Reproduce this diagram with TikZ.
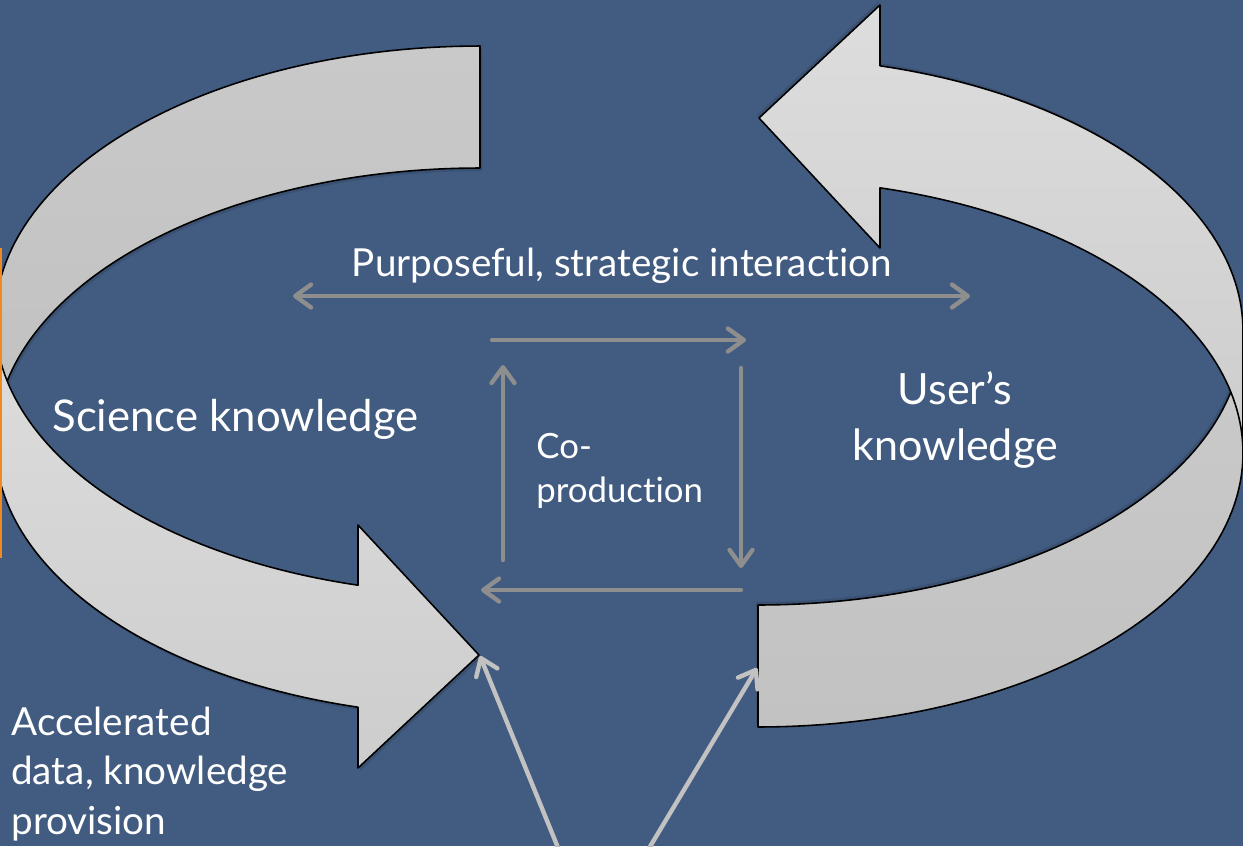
\documentclass[tikz,border=0pt]{standalone}
\usepackage{fontspec}
\setmainfont{Lato}[Ligatures=NoCommon,Contextuals=NoAlternate]
\usetikzlibrary{arrows.meta}
\definecolor{bgblue}{HTML}{425B80}
\definecolor{midgray}{HTML}{8E8E8E}
\definecolor{palegray}{HTML}{C2C2C2}
\definecolor{orangeline}{HTML}{F0891E}
\definecolor{lightA}{HTML}{DDDDDD}
\definecolor{lightB}{HTML}{CDCDCD}
\definecolor{darkA}{HTML}{C9C9C9}
\definecolor{darkB}{HTML}{C2C2C2}
\newcommand{\lightpath}{(-5,320) -- plot[domain=0:75.43,samples=60,variable=\t] ({480-485*cos(\t)},{320+274*sin(\t)}) -- (358,525) -- (479,655) -- (358,768) -- (358,707.2) -- plot[domain=75.43:0,samples=60,variable=\t] ({480-485*cos(\t)},{442+274*sin(\t)}) -- cycle}
\newcommand{\darkpath}{(480,168) -- plot[domain=90:12.86,samples=60,variable=\t] ({480-485*cos(\t)},{442-274*sin(\t)}) -- plot[domain=-12.86:90,samples=80,variable=\t] ({480-485*cos(\t)},{320-274*sin(\t)}) -- cycle}
\newcommand{\outlinepath}{(-5,442) -- (-5,320) -- plot[domain=0:75.43,samples=60,variable=\t] ({480-485*cos(\t)},{320+274*sin(\t)}) -- (358,525) -- (479,655) -- (358,768) -- (358,707.2) -- plot[domain=75.43:0,samples=60,variable=\t] ({480-485*cos(\t)},{442+274*sin(\t)}) (-5,320) -- plot[domain=0:90,samples=60,variable=\t] ({480-485*cos(\t)},{320-274*sin(\t)}) -- (480,168) -- plot[domain=90:12.86,samples=60,variable=\t] ({480-485*cos(\t)},{442-274*sin(\t)})}
\newcommand{\drawbigarrow}{%
  \fill[black,opacity=0.10,shift={(2,3)}] \lightpath;
  \fill[black,opacity=0.10,shift={(2,3)}] \darkpath;
  \fill[top color=lightA,bottom color=lightB] \lightpath;
  \fill[top color=darkA,bottom color=darkB] \darkpath;
  \draw[black,line width=0.9pt,line join=round] \outlinepath;}
\tikzset{
  >={Straight Barb[length=9pt,width=13pt,round]},
  coarrow/.style={draw=midgray,line width=2.5pt,line cap=round},
  feedarrow/.style={draw=palegray,line width=2.5pt,line cap=round},
  lbl/.style={text=white,inner sep=0pt},
}
\begin{document}
\begin{tikzpicture}[x=0.02cm,y=-0.02cm]
\useasboundingbox (0,0) rectangle (1243,846);
\clip (0,0) rectangle (1243,846);
\fill[bgblue] (0,0) rectangle (1243,846);
% left curved arrow
\begin{scope}
  \drawbigarrow
\end{scope}
% right curved arrow (rotated copy)
\begin{scope}[rotate around={180:(619,386.5)}]
  \drawbigarrow
\end{scope}
\fill[orangeline] (0,248) rectangle (2,558);
% coordinates
\coordinate (pl) at (293,296);
\coordinate (pr) at (970,296);
\coordinate (t1) at (492,340);
\coordinate (t2) at (746,340);
\coordinate (r1) at (741,368);
\coordinate (r2) at (741,568);
\coordinate (b1) at (741,590);
\coordinate (b2) at (481,590);
\coordinate (l1) at (503,560);
\coordinate (l2) at (503,365);
\coordinate (lefttip) at (480,656);
\coordinate (righttail) at (757,668);
\coordinate (f1) at (563,860);
\coordinate (f2) at (642,860);
% arrows
\draw[coarrow,<->] (pl) -- (pr);
\draw[coarrow,->] (t1) -- (t2);
\draw[coarrow,->] (r1) -- (r2);
\draw[coarrow,->] (b1) -- (b2);
\draw[coarrow,->] (l1) -- (l2);
\draw[feedarrow,->] (f1) -- (lefttip);
\draw[feedarrow,->] (f2) -- (righttail);
% labels
\node[lbl,font=\fontsize{22}{26}\selectfont,anchor=base] (purp) at (622,276) {Purposeful, strategic interaction};
\node[lbl,font=\fontsize{24.9}{30}\selectfont,anchor=base west] (sci) at (52,431) {Science knowledge};
\node[lbl,font=\fontsize{24.5}{32.3}\selectfont,align=center,anchor=center] (user) at (955,420) {User’s\\knowledge};
\node[lbl,font=\fontsize{19.8}{25}\selectfont,align=left,anchor=west] (coprod) at (536,471) {Co-\\production};
\node[lbl,font=\fontsize{22}{28.3}\selectfont,align=left,anchor=west] (accel) at (11,774) {Accelerated\\data, knowledge\\provision};
\end{tikzpicture}
\end{document}
